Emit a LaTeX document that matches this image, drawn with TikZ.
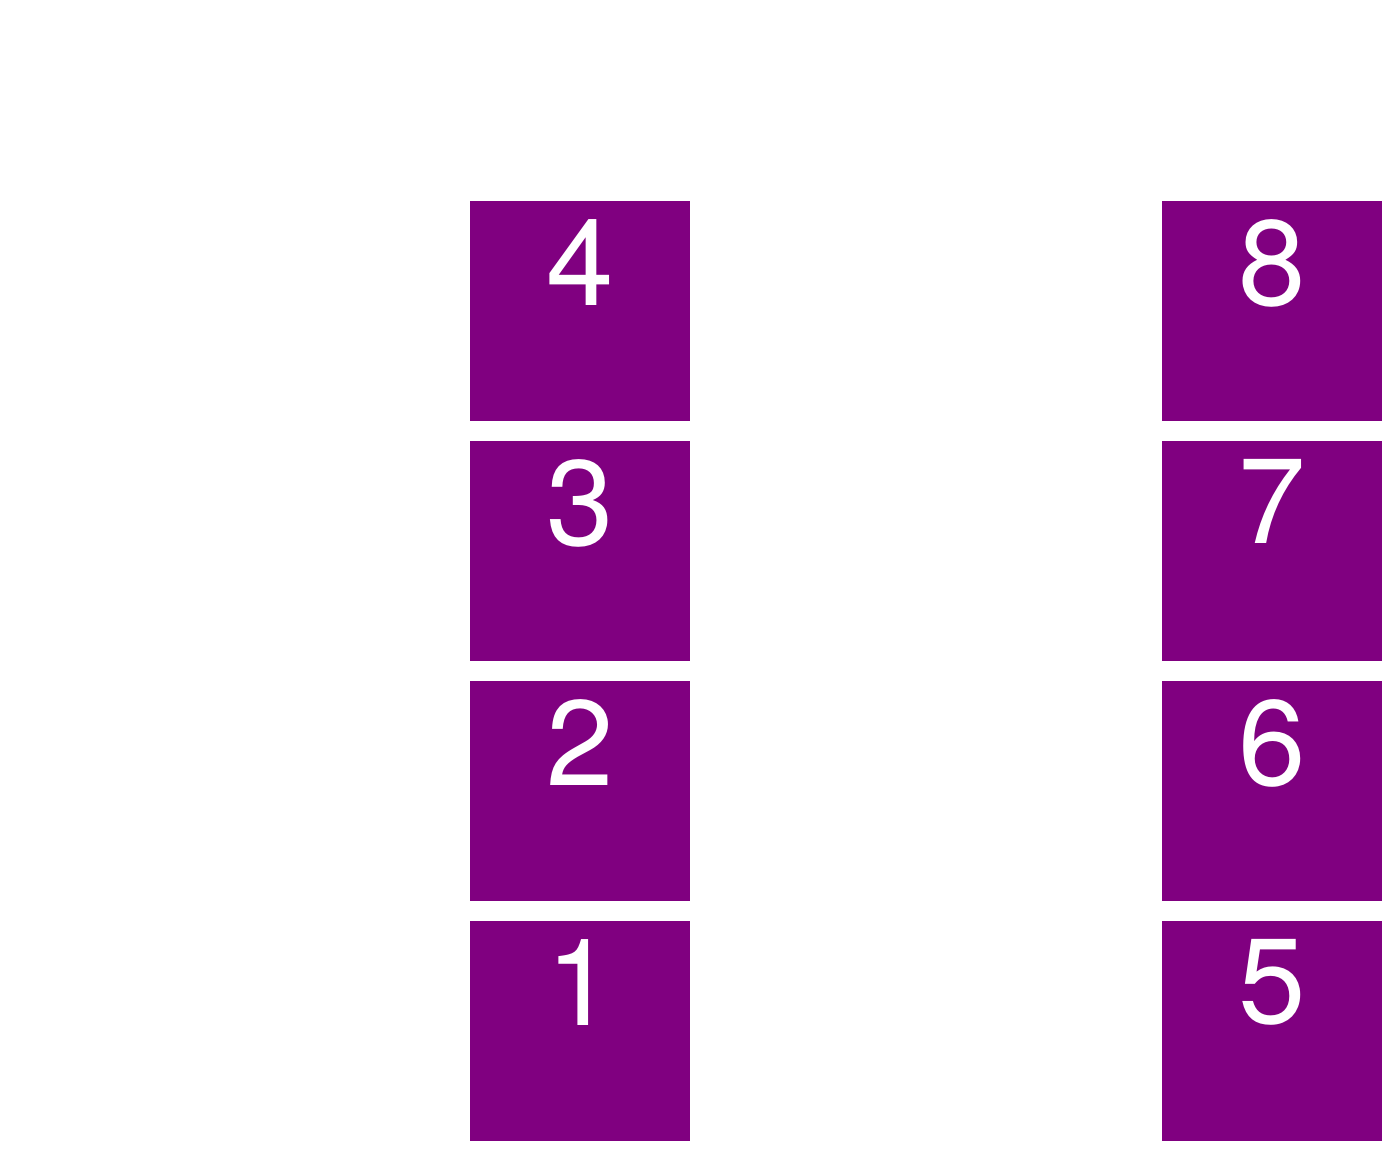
\documentclass[tikz,border=0pt]{standalone}
\usepackage{fontspec}
\setmainfont{TeX Gyre Heros}
\usetikzlibrary{positioning}
\definecolor{boxpurple}{HTML}{800080}

\begin{document}
\begin{tikzpicture}[cell/.style={fill=boxpurple,minimum size=2.2cm,inner sep=0pt,outer sep=0pt,
    label={[anchor=north,yshift=-0.18cm,inner sep=0pt,text=white,font=\fontsize{34.5}{34.5}\selectfont]north:#1}},
  node distance=0.2cm]
\useasboundingbox (0,0) rectangle (14,11.59);
% left column
\node[cell=4] (b4) at (5.8,8.48) {};
\node[cell=3,below=of b4] (b3) {};
\node[cell=2,below=of b3] (b2) {};
\node[cell=1,below=of b2] (b1) {};
% right column
\node[cell=8] (b8) at (12.72,8.48) {};
\node[cell=7,below=of b8] (b7) {};
\node[cell=6,below=of b7] (b6) {};
\node[cell=5,below=of b6] (b5) {};
\end{tikzpicture}
\end{document}
